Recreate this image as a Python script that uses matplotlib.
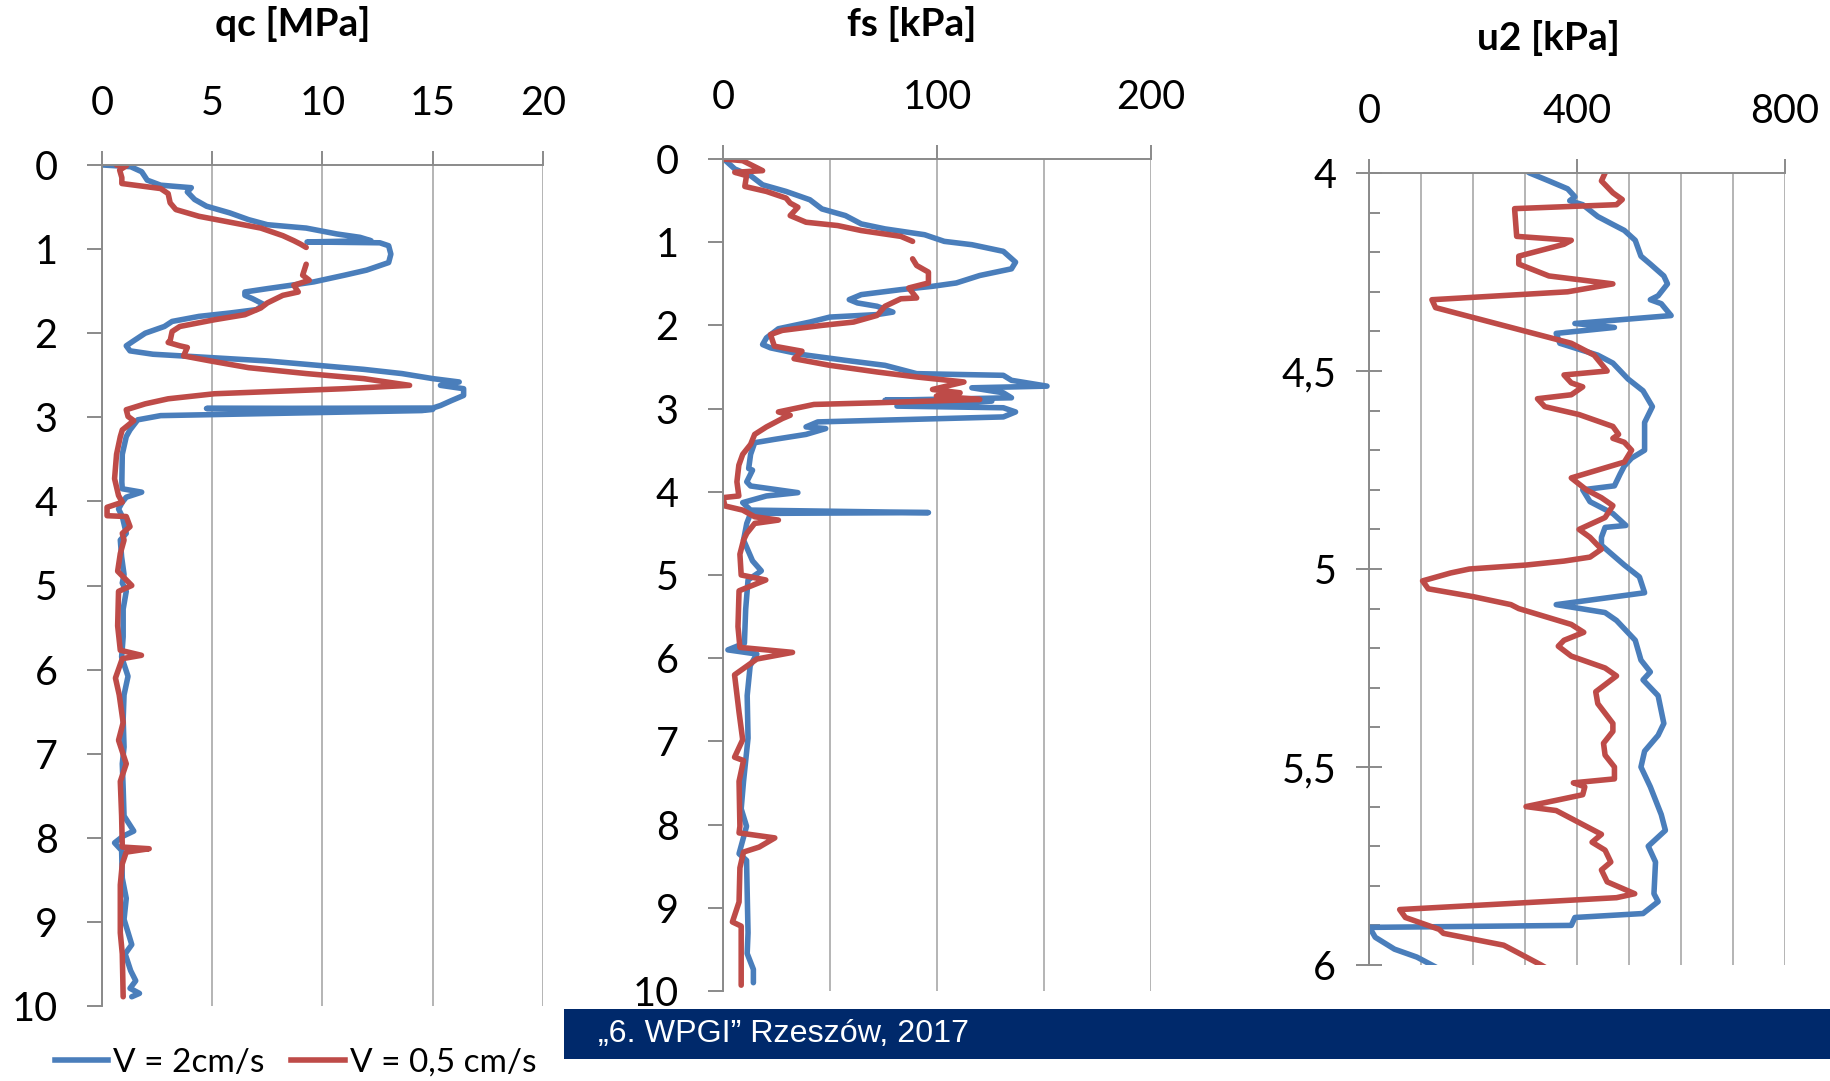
"""
    CPT soundings at two penetration rates: qc, fs and u2 against depth.
"""
# Modules:
import numpy as np
import matplotlib
matplotlib.use("Agg")
import matplotlib.pyplot as plt
from matplotlib import font_manager
from matplotlib.ticker import MultipleLocator, FuncFormatter
from matplotlib.patches import Rectangle
from matplotlib.lines import Line2D

# Data (depth [m], value):
NAN = np.nan

qc_fast = [(0.00, 0.05), (0.02, 1.3), (0.08, 1.8), (0.18, 2.05), (0.24, 2.66), (0.27, 4.05),
           (0.32, 3.87), (0.41, 4.2), (0.49, 4.74), (0.57, 5.8), (0.65, 6.65), (0.71, 7.5),
           (0.75, 9.26), (0.82, 10.65), (0.86, 11.7), (0.90, 12.2), (0.915, 9.3), (0.925, 12.6),
           (0.96, 13.0), (1.06, 13.1), (1.16, 13.0), (1.25, 12.0), (1.31, 11.0), (1.39, 9.6),
           (1.43, 8.57), (1.47, 7.5), (1.51, 6.48), (1.55, 6.48), (1.59, 6.83), (1.66, 7.35),
           (1.72, 7.0), (1.76, 5.8), (1.80, 4.4), (1.86, 3.18), (1.92, 2.83), (2.00, 1.96),
           (2.09, 1.44), (2.15, 1.1), (2.21, 1.27), (2.25, 2.31), (2.29, 4.92), (2.33, 7.5),
           (2.37, 9.26), (2.43, 11.87), (2.48, 13.6), (2.54, 15.0), (2.58, 16.2), (2.62, 15.35),
           (2.66, 16.4), (2.74, 16.4), (2.80, 15.86), (2.86, 15.35), (2.89, 15.0), (2.895, 4.74),
           (2.905, 15.0), (2.92, 14.5), (2.98, 2.66), (3.03, 1.62), (3.15, 1.27), (3.23, 1.1),
           (3.44, 0.92), (3.77, 0.9), (3.85, 0.92), (3.89, 1.8), (3.95, 1.1), (4.01, 0.92),
           (4.09, 0.75), (4.18, 0.92), (4.38, 1.1), (4.46, 0.83), (4.66, 0.89), (4.87, 1.0),
           (4.97, 0.92), (5.07, 1.1), (5.28, 0.96), (5.61, 0.96), (5.85, 0.89), (6.08, 1.18),
           (6.30, 1.0), (6.59, 0.96), (6.92, 1.0), (7.12, 0.92), (7.41, 0.96), (7.74, 1.0),
           (7.92, 1.44), (7.98, 0.96), (8.06, 0.57), (8.15, 0.89), (8.48, 0.92), (8.72, 1.1),
           (8.97, 1.0), (9.27, 1.35), (9.38, 1.05), (9.58, 1.3), (9.70, 1.53), (9.79, 1.27),
           (9.85, 1.7), (9.89, 1.35)]

qc_slow = [(0.00, 0.66), (0.01, 1.1), (0.06, 0.8), (0.15, 0.9), (0.22, 0.9), (0.28, 2.66),
           (0.34, 3.0), (0.45, 3.09), (0.53, 3.35), (0.61, 4.4), (0.68, 5.8), (0.75, 7.2),
           (0.84, 8.2), (0.90, 8.7), (0.94, 9.0), (0.98, 9.26), (1.08, NAN), (1.18, 9.26),
           (1.31, 9.1), (1.37, 9.4), (1.43, 8.7), (1.51, 8.9), (1.55, 8.2), (1.64, 7.5),
           (1.70, 7.2), (1.78, 6.48), (1.84, 5.1), (1.92, 3.53), (1.98, 3.18), (2.09, 3.09),
           (2.11, 3.0), (2.15, 3.53), (2.17, 3.87), (2.27, 3.7), (2.33, 4.92), (2.41, 6.65),
           (2.48, 9.26), (2.54, 11.87), (2.62, 13.95), (2.66, 11.0), (2.72, 5.1), (2.78, 3.0),
           (2.84, 1.96), (2.91, 1.1), (2.99, 1.18), (3.04, 1.44), (3.15, 0.92), (3.23, 0.83),
           (3.44, 0.66), (3.73, 0.57), (3.93, 0.75), (4.01, 0.92), (4.07, 0.23), (4.17, 0.23),
           (4.18, 1.1), (4.30, 1.27), (4.38, 0.92), (4.46, 1.0), (4.62, 0.83), (4.83, 0.71),
           (5.00, 1.35), (5.07, 0.75), (5.48, 0.71), (5.77, 0.83), (5.83, 1.79), (5.87, 0.92),
           (6.10, 0.61), (6.30, 0.78), (6.63, 0.96), (6.84, 0.75), (7.12, 1.1), (7.33, 0.83),
           (7.74, 0.89), (8.11, 0.92), (8.13, 2.14), (8.17, 1.1), (8.31, 0.92), (8.56, 0.83),
           (9.13, 0.83), (9.38, 0.92), (9.89, 0.96)]

fs_fast = [(0.00, 0.4), (0.12, 5.5), (0.20, 12.9), (0.31, 18.5), (0.39, 29.5), (0.49, 40.6),
           (0.60, 46.2), (0.68, 57.2), (0.78, 64.6), (0.84, 75.7), (0.91, 94.2), (0.99, 103.4),
           (1.03, 116.3), (1.11, 131), (1.24, 136.7), (1.32, 134.8), (1.40, 120), (1.49, 109),
           (1.53, 97.9), (1.57, 83.1), (1.63, 64.6), (1.69, 59), (1.73, 62.8), (1.77, 72),
           (1.84, 79.4), (1.87, 72), (1.90, 49.9), (1.96, 40.6), (2.04, 25.9), (2.15, 20.3),
           (2.23, 18.5), (2.27, 22.2), (2.35, 36.9), (2.42, 57.2), (2.48, 75.7), (2.58, 90.5),
           (2.60, 131), (2.66, 134.8), (2.73, 151.4), (2.75, 116.3), (2.81, 131), (2.87, 134.8),
           (2.90, 75.7), (2.91, 125.6), (2.97, 81.3), (2.99, 131), (3.04, 136.7), (3.10, 131),
           (3.16, 44.3), (3.22, 38.8), (3.24, 48), (3.31, 38.8), (3.37, 24), (3.41, 14.8),
           (3.55, 12.9), (3.72, 12), (3.74, 13.8), (3.88, 11.1), (3.93, 12.9), (4.01, 35),
           (4.05, 20.3), (4.13, 9.2), (4.22, 12.9), (4.25, 96), (4.26, 12.9), (4.38, 11.1),
           (4.58, 9.6), (4.83, 13.8), (4.95, 17.9), (5.06, 11.7), (5.41, 10.6), (5.82, 10),
           (5.90, 2.3), (5.95, 15.8), (6.09, 12.7), (6.45, 11.3), (6.96, 11.7), (7.48, 9.6),
           (7.81, 8.5), (8.02, 11), (8.35, 7.5), (8.43, 11), (8.81, 11.3), (9.30, 11.7),
           (9.55, 11.3), (9.74, 14.2), (9.90, 14.2)]

fs_slow = [(0.00, 0.0), (0.02, 9.2), (0.14, 18.5), (0.16, 5.5), (0.20, 11), (0.33, 10.2),
           (0.39, 20.3), (0.47, 29.5), (0.53, 31.4), (0.58, 35), (0.68, 31.4), (0.76, 38.8),
           (0.80, 53.6), (0.86, 64.6), (0.93, 83.1), (0.99, 88.6), (1.10, NAN), (1.20, 88.6),
           (1.28, 90.5), (1.36, 96), (1.49, 96), (1.55, 86.8), (1.67, 90.5), (1.68, 83.1),
           (1.77, 75.7), (1.88, 72), (1.96, 61), (2.00, 46.2), (2.06, 27.7), (2.11, 22.2),
           (2.25, 24), (2.31, 36.9), (2.40, 33.2), (2.48, 49.9), (2.56, 72), (2.62, 90.5),
           (2.68, 112.6), (2.77, 97.9), (2.81, 110.8), (2.85, 99.7), (2.89, 120), (2.93, 72),
           (2.95, 42.5), (3.04, 25.9), (3.08, 31.4), (3.12, 27.7), (3.22, 20.3), (3.31, 14.8),
           (3.43, 12.9), (3.55, 9.2), (3.68, 7.4), (3.88, 6.5), (4.05, 7.4), (4.07, 0.0),
           (4.17, 0.9), (4.22, 9.2), (4.30, 14.8), (4.34, 25.9), (4.38, 14.8), (4.50, 11.1),
           (4.58, 9.6), (4.75, 7.9), (5.00, 8.5), (5.06, 20), (5.19, 7.5), (5.62, 7.0),
           (5.87, 7.9), (5.93, 32.5), (6.01, 15.8), (6.20, 5.4), (6.65, 7.5), (6.98, 9.2),
           (7.19, 5.4), (7.23, 9.6), (7.48, 7.5), (8.02, 7.9), (8.10, 7.5), (8.16, 24.2),
           (8.27, 16.9), (8.33, 9.6), (8.52, 7.9), (8.93, 7.5), (9.17, 4.4), (9.22, 8.5),
           (9.93, 8.5)]

u2_fast = [(3.98, 285), (4.00, 309), (4.02, 346), (4.04, 382), (4.06, 396), (4.07, 386),
           (4.08, 411), (4.11, 440), (4.13, 469), (4.145, 491), (4.17, 512), (4.21, 523),
           (4.23, 541), (4.26, 567), (4.28, 574), (4.31, 556), (4.32, 541), (4.33, 562),
           (4.36, 581), (4.38, 396), (4.39, 472), (4.405, 360), (4.43, 367), (4.46, 440),
           (4.48, 469), (4.52, 498), (4.55, 527), (4.59, 545), (4.63, 530), (4.70, 530),
           (4.72, 505), (4.74, 491), (4.76, 483), (4.79, 472), (4.80, 411), (4.83, 425),
           (4.86, 469), (4.89, 494), (4.895, 454), (4.92, 447), (4.94, 447), (4.99, 491),
           (5.02, 520), (5.06, 530), (5.09, 360), (5.11, 454), (5.13, 476), (5.18, 512),
           (5.23, 523), (5.26, 541), (5.28, 527), (5.32, 556), (5.39, 567), (5.42, 556),
           (5.46, 530), (5.50, 523), (5.55, 541), (5.62, 562), (5.66, 570), (5.70, 537),
           (5.74, 551), (5.82, 548), (5.84, 556), (5.87, 527), (5.88, 396), (5.90, 389),
           (5.905, 1), (5.93, 12), (5.96, 49), (5.98, 92), (6.005, 128), (6.03, 160)]

u2_slow = [(3.98, 458), (4.00, 454), (4.02, 447), (4.05, 469), (4.067, 487), (4.08, 476),
           (4.09, 280), (4.16, 284), (4.17, 389), (4.18, 375), (4.21, 288), (4.23, 288),
           (4.26, 346), (4.28, 469), (4.30, 382), (4.32, 121), (4.34, 128), (4.36, 186),
           (4.39, 273), (4.41, 331), (4.43, 389), (4.46, 433), (4.50, 458), (4.51, 375),
           (4.53, 389), (4.54, 411), (4.56, 389), (4.57, 324), (4.59, 338), (4.61, 404),
           (4.64, 469), (4.66, 480), (4.67, 469), (4.68, 491), (4.70, 505), (4.73, 491),
           (4.77, 389), (4.80, 418), (4.82, 447), (4.84, 469), (4.87, 454), (4.90, 404),
           (4.92, 425), (4.95, 447), (4.97, 425), (4.98, 375), (4.99, 302), (5.00, 193),
           (5.01, 157), (5.03, 103), (5.05, 114), (5.07, 201), (5.09, 273), (5.10, 288),
           (5.14, 389), (5.16, 413), (5.18, 375), (5.195, 364), (5.22, 389), (5.25, 454),
           (5.27, 476), (5.31, 436), (5.34, 440), (5.39, 469), (5.41, 469), (5.44, 451),
           (5.47, 454), (5.50, 472), (5.53, 472), (5.54, 393), (5.55, 415), (5.57, 411),
           (5.58, 375), (5.60, 302), (5.61, 360), (5.63, 389), (5.67, 447), (5.69, 429),
           (5.71, 454), (5.74, 465), (5.76, 447), (5.79, 458), (5.82, 511), (5.83, 476),
           (5.86, 59), (5.88, 70), (5.91, 135), (5.92, 143), (5.95, 259), (5.97, 288),
           (6.00, 331), (6.03, 370)]

series_labels = ["V = 2cm/s", "V = 0,5 cm/s"]
footer_text = "\u201e6. WPGI\u201d Rzesz\u00f3w, 2017"

# Styles:
BLUE = "#4A7EBB"
RED = "#BE4B48"
GRID = "#b4b4b4"
AXC = "#8a8a8a"
NAVY = "#00296B"
LW = 4.0
TICK_FS = 28.5

W, H = 1831, 1081

names = {f.name for f in font_manager.fontManager.ttflist}
main_font = "Lato" if "Lato" in names else "DejaVu Sans"
narrow = "Liberation Sans Narrow" if "Liberation Sans Narrow" in names else "Liberation Sans"
plt.rcParams['font.family'] = [main_font, 'DejaVu Sans']


def px_rect(left, top, right, bottom):
    """ Axes rectangle from pixel edges. """
    return [left / W, 1 - bottom / H, (right - left) / W, (bottom - top) / H]


def comma(v, pos):
    return ("%g" % v).replace('.', ',')


def setup_panel(ax, xmax, xmajor, xgrid, ylim, ymajor, yminor=None):
    """ Common Excel-like styling for one depth panel. """
    ax.set_xlim(0, xmax)
    ax.set_ylim(*ylim)
    ax.xaxis.tick_top()
    ax.xaxis.set_major_locator(MultipleLocator(xmajor))
    ax.xaxis.set_minor_locator(MultipleLocator(xgrid))
    ax.yaxis.set_major_locator(MultipleLocator(ymajor))
    ax.yaxis.set_major_formatter(FuncFormatter(comma))
    ax.grid(which='both', axis='x', color=GRID, lw=1.4)
    ax.set_axisbelow(True)
    for side in ('bottom', 'right'):
        ax.spines[side].set_visible(False)
    for side in ('top', 'left'):
        ax.spines[side].set_color(AXC)
        ax.spines[side].set_linewidth(1.4)
    ax.tick_params(axis='x', which='major', direction='out', length=10, width=1.4,
                   color=AXC, labelsize=TICK_FS, pad=21, top=True, bottom=False)
    ax.tick_params(axis='x', which='minor', length=0)
    if yminor is None:
        ax.tick_params(axis='y', which='major', direction='out', length=11, width=1.4,
                       color=AXC, labelsize=TICK_FS, pad=21)
    else:
        ax.yaxis.set_minor_locator(MultipleLocator(yminor))
        ax.tick_params(axis='y', which='major', direction='inout', length=19, width=1.4,
                       color=AXC, labelsize=TICK_FS, pad=14)
        ax.tick_params(axis='y', which='minor', direction='in', length=8, width=1.4,
                       color=AXC)


def draw(ax, pairs, color):
    d, v = zip(*pairs)
    ax.plot(v, d, color=color, lw=LW, solid_joinstyle='round', solid_capstyle='round')


fig = plt.figure(figsize=(W / 100, H / 100), dpi=100)

ax_qc = fig.add_axes(px_rect(102, 165, 543, 1006))
setup_panel(ax_qc, 20, 5, 5, (10, 0), 1)
draw(ax_qc, qc_fast, BLUE)
draw(ax_qc, qc_slow, RED)

ax_fs = fig.add_axes(px_rect(723, 159, 1151, 991))
setup_panel(ax_fs, 200, 100, 50, (10, 0), 1)
draw(ax_fs, fs_fast, BLUE)
draw(ax_fs, fs_slow, RED)

ax_u2 = fig.add_axes(px_rect(1369, 173, 1785, 965))
setup_panel(ax_u2, 800, 400, 100, (6, 4), 0.5, yminor=0.1)
draw(ax_u2, u2_fast, BLUE)
draw(ax_u2, u2_slow, RED)

# Titles:
for txt, x, y in [("qc [MPa]", 293, 24), ("fs [kPa]", 912, 24), ("u2 [kPa]", 1549, 38)]:
    fig.text(x / W, 1 - y / H, txt, ha='center', va='center', fontsize=28, fontweight='bold')

# Legend:
handles = [Line2D([], [], color=BLUE, lw=LW), Line2D([], [], color=RED, lw=LW)]
fig.legend(handles, series_labels, loc='center left', bbox_to_anchor=(55 / W, 1 - 1063 / H),
           ncol=2, frameon=False, fontsize=24, handlelength=1.6, handletextpad=0.15,
           columnspacing=0.8, borderpad=0, borderaxespad=0)

# Footer banner:
fig.add_artist(Rectangle((564 / W, 1 - 1059 / H), (W - 564) / W, 50 / H,
                         transform=fig.transFigure, color=NAVY, lw=0))
fig.text(598 / W, 1 - 1034 / H, footer_text, color='white', fontsize=23.2,
         family=narrow, va='center', ha='left')

fig.savefig("out.png", dpi=100)
